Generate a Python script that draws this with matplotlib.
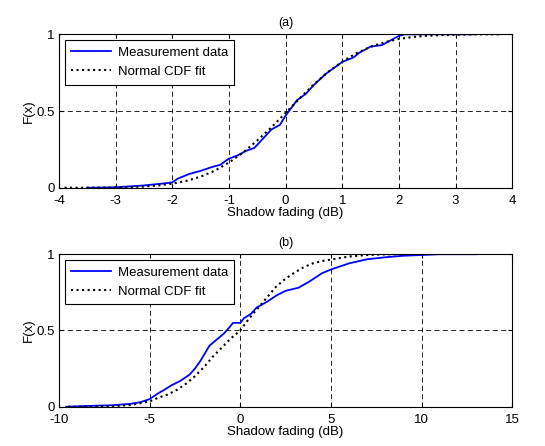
import matplotlib
matplotlib.use("Agg")
import matplotlib.pyplot as plt

plt.rcParams["font.family"] = ["Liberation Sans", "DejaVu Sans"]
plt.rcParams["font.size"] = 9.5
plt.rcParams["axes.unicode_minus"] = False

# panel (a): measured empirical CDF
meas_a_x = [-3.5, -3.0, -2.5, -2.1, -2.0, -1.9, -1.7, -1.5, -1.3, -1.15, -1.0, -0.85,
            -0.7, -0.55, -0.4, -0.25, -0.1, 0.0, 0.1, 0.2, 0.35, 0.5, 0.7, 0.85, 1.0,
            1.2, 1.3, 1.5, 1.7, 1.85, 2.0, 2.1, 3.3]
meas_a_y = [0.0, 0.003, 0.015, 0.03, 0.035, 0.06, 0.09, 0.11, 0.135, 0.15, 0.19, 0.21,
            0.24, 0.26, 0.32, 0.38, 0.41, 0.47, 0.52, 0.57, 0.61, 0.67, 0.74, 0.78, 0.82,
            0.85, 0.88, 0.92, 0.93, 0.96, 0.99, 1.0, 1.0]
# panel (a): normal fit
fit_a_x = [-3.9, -3.5, -3.25, -3.0, -2.75, -2.5, -2.25, -2.0, -1.75, -1.5, -1.25, -1.0,
           -0.75, -0.5, -0.25, 0.0, 0.25, 0.5, 0.75, 1.0, 1.25, 1.5, 1.75, 2.0, 2.25,
           2.5, 2.75, 3.0, 3.5, 3.8]
fit_a_y = [0.0001, 0.0004, 0.0009, 0.002, 0.004, 0.008, 0.015, 0.027, 0.045, 0.072,
           0.111, 0.164, 0.229, 0.308, 0.394, 0.488, 0.583, 0.674, 0.755, 0.822, 0.877,
           0.919, 0.949, 0.970, 0.983, 0.991, 0.995, 0.998, 1.0, 1.0]

# panel (b)
meas_b_x = [-9.6, -8.5, -7.0, -6.0, -5.5, -5.0, -4.5, -4.2, -3.8, -3.3, -2.8, -2.5, -2.2,
            -1.9, -1.7, -1.3, -0.9, -0.6, -0.4, 0.0, 0.2, 0.6, 0.9, 1.5, 2.0, 2.5, 3.2,
            3.8, 4.5, 5.0, 6.0, 7.0, 8.0, 9.0, 10.0, 11.0, 13.0]
meas_b_y = [0.0, 0.005, 0.01, 0.02, 0.03, 0.05, 0.09, 0.11, 0.14, 0.17, 0.21, 0.25, 0.30,
            0.36, 0.40, 0.44, 0.48, 0.52, 0.55, 0.55, 0.58, 0.61, 0.65, 0.69, 0.73, 0.76,
            0.78, 0.82, 0.875, 0.90, 0.94, 0.967, 0.98, 0.99, 0.995, 1.0, 1.0]
fit_b_x = [-9.5, -8.0, -7.0, -6.0, -5.0, -4.5, -4.0, -3.5, -3.0, -2.5, -2.0, -1.5, -1.0,
           -0.5, 0.0, 0.5, 1.0, 1.5, 2.0, 2.5, 3.0, 3.5, 4.0, 4.5, 5.0, 6.0, 7.0, 8.0,
           9.0]
fit_b_y = [0.0, 0.001, 0.004, 0.012, 0.035, 0.06, 0.08, 0.11, 0.15, 0.20, 0.26, 0.33,
           0.39, 0.45, 0.50, 0.58, 0.65, 0.72, 0.79, 0.84, 0.88, 0.915, 0.94, 0.955,
           0.965, 0.985, 0.995, 0.999, 1.0]

panels = [
    ("(a)", meas_a_x, meas_a_y, fit_a_x, fit_a_y, (-4, 4), range(-4, 5)),
    ("(b)", meas_b_x, meas_b_y, fit_b_x, fit_b_y, (-10, 15), range(-10, 16, 5)),
]

fig = plt.figure(figsize=(5.45, 4.46), dpi=100)
boxes = [[0.108, 0.579, 0.832, 0.344], [0.108, 0.088, 0.832, 0.342]]

for box, (title, mx, my, fx, fy, xlim, xticks) in zip(boxes, panels):
    ax = fig.add_axes(box)
    ax.plot(mx, my, color="#0000ff", lw=1.3, label="Measurement data")
    ax.plot(fx, fy, color="black", lw=1.5, ls=":", label="Normal CDF fit")
    ax.set_xlim(*xlim)
    ax.set_ylim(0, 1)
    ax.set_xticks(list(xticks))
    ax.set_yticks([0, 0.5, 1])
    ax.set_yticklabels(["0", "0.5", "1"])
    ax.grid(True, color="black", ls=(0, (6, 4)), lw=0.6)
    ax.tick_params(direction="in", top=True, right=True, length=3)
    ax.tick_params(axis="x", pad=5)
    ax.tick_params(axis="y", pad=3)
    ax.set_xlabel("Shadow fading (dB)", labelpad=0)
    ax.set_ylabel("F(x)", labelpad=1)
    ax.set_title(title, fontsize=9, pad=6)
    leg = ax.legend(loc="upper left", fancybox=False, framealpha=1,
                    edgecolor="black", borderaxespad=0.45, handlelength=3.0,
                    handletextpad=0.5, fontsize=9.5, labelspacing=0.5,
                    borderpad=0.5)
    leg.get_frame().set_linewidth(0.8)

fig.savefig("out.png", dpi=100)
